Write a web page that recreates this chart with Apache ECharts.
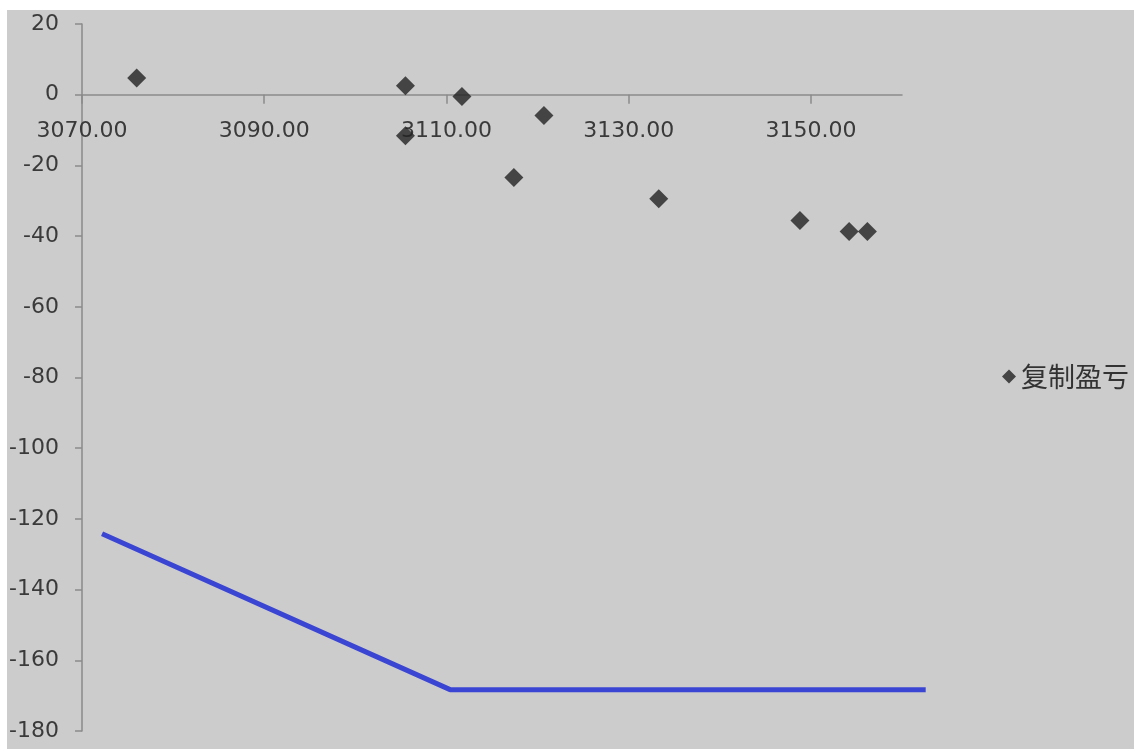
<!DOCTYPE html>
<html>
<head>
<meta charset="utf-8">
<script src="https://cdn.jsdelivr.net/npm/echarts@6/dist/echarts.min.js"></script>
<style>
  html, body { margin: 0; padding: 0; background: #ffffff; }
  #chart { position: absolute; left: 7px; top: 10px; width: 1127px; height: 739px; }
</style>
</head>
<body>
<div id="chart"></div>
<script>
// Copy P&L scatter points: [price, pnl]
const seriesName = '复制盈亏';
const pnlPrice = [3076.0, 3105.5, 3105.5, 3111.7, 3117.4, 3120.7, 3133.3, 3148.8, 3154.2, 3156.2];
const pnlValue = [4.7, 2.5, -11.6, -0.5, -23.4, -5.9, -29.4, -35.6, -38.7, -38.7];

// Payoff line vertices: [price, value]
const linePrice = [3072.2, 3110.4, 3162.6];
const lineValue = [-124.2, -168.3, -168.3];

// Axis ranges and tick values
const xTicks = [3070, 3090, 3110, 3130, 3150];
const xMin = 3070, xMax = 3160, xStep = 20;
const xMaxLine = 3170;           // the payoff line runs a little past the axis end
const yMin = -180, yMax = 20, yStep = 20;

const el = document.getElementById('chart');
const W = el.clientWidth, H = el.clientHeight;
const gridLeft = 75, gridRight = 232, gridTop = 14, gridBottom = 18;
const plotW = W - gridLeft - gridRight;
const plotH = H - gridTop - gridBottom;
// second (overlay) grid keeps the same px-per-unit scale but reaches further right
const lineGridRight = gridRight - (xMaxLine - xMax) * plotW / (xMax - xMin);
// the price axis sits on y = 0
const zeroOffset = -plotH * (0 - yMin) / (yMax - yMin);

const labelFont = { fontFamily: 'DejaVu Sans', fontSize: 22, color: '#3a3a3a' };
const axisGray = '#8a8a8a';

const chart = echarts.init(el, null, { renderer: 'canvas' });
chart.setOption({
  backgroundColor: '#cccccc',
  animation: false,
  grid: [
    { left: gridLeft, right: gridRight, top: gridTop, bottom: gridBottom, outerBoundsMode: 'none', containLabel: false },
    { left: gridLeft, right: lineGridRight, top: gridTop, bottom: gridBottom, outerBoundsMode: 'none', containLabel: false }
  ],
  legend: {
    data: [seriesName],
    left: 990, top: 348,
    icon: 'diamond',
    itemWidth: 14, itemHeight: 14, itemGap: 3,
    textStyle: { fontFamily: 'Noto Sans CJK SC', fontSize: 27, color: '#333333' }
  },
  xAxis: [
    {
      type: 'value', gridIndex: 0,
      min: xMin, max: xMax, interval: xStep,
      position: 'bottom', offset: zeroOffset,
      axisLine: { onZero: false, lineStyle: { color: axisGray, width: 1.5 } },
      axisTick: { show: true, length: 9, customValues: xTicks, lineStyle: { color: axisGray, width: 1.5 } },
      axisLabel: Object.assign({ margin: 26, customValues: xTicks,
        formatter: v => v.toFixed(2) }, labelFont),
      splitLine: { show: false }
    },
    {
      type: 'value', gridIndex: 1, show: false,
      min: xMin, max: xMaxLine,
      splitLine: { show: false }
    }
  ],
  yAxis: [
    {
      type: 'value', gridIndex: 0,
      min: yMin, max: yMax, interval: yStep,
      axisLine: { show: true, onZero: false, lineStyle: { color: axisGray, width: 1.5 } },
      axisTick: { show: true, length: 7, lineStyle: { color: axisGray, width: 1.5 } },
      axisLabel: Object.assign({ margin: 23 }, labelFont),
      splitLine: { show: false }
    },
    {
      type: 'value', gridIndex: 1, show: false,
      min: yMin, max: yMax,
      splitLine: { show: false }
    }
  ],
  series: [
    {
      name: 'payoff',
      type: 'line',
      xAxisIndex: 1, yAxisIndex: 1,
      symbol: 'none',
      lineStyle: { color: '#3b45d3', width: 5 },
      data: linePrice.map((p, i) => [p, lineValue[i]]),
      z: 2
    },
    {
      name: seriesName,
      type: 'scatter',
      xAxisIndex: 0, yAxisIndex: 0,
      symbol: 'diamond',
      symbolSize: 19,
      itemStyle: { color: '#222222' },
      data: pnlPrice.map((p, i) => [p, pnlValue[i]]),
      z: 3
    }
  ]
});
</script>
</body>
</html>
